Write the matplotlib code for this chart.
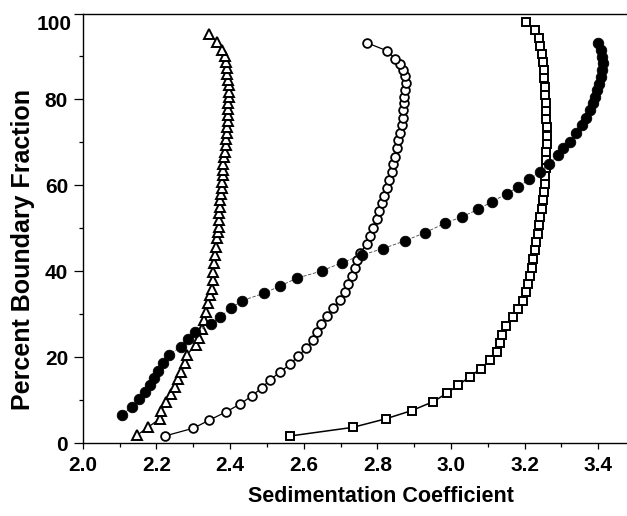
import matplotlib
matplotlib.use("Agg")
import matplotlib.pyplot as plt
from matplotlib.ticker import MultipleLocator, FixedLocator

plt.rcParams['font.family'] = ['Liberation Sans', 'DejaVu Sans']
plt.rcParams['font.weight'] = 'bold'

# Filled circles (dashed connector)
fc_x = [2.106, 2.133, 2.154, 2.169, 2.183, 2.194, 2.205, 2.219, 2.234, 2.268, 2.285, 2.304,
        2.348, 2.373, 2.402, 2.433, 2.492, 2.536, 2.581, 2.649, 2.703, 2.758, 2.815, 2.875,
        2.929, 2.984, 3.029, 3.074, 3.110, 3.151, 3.183, 3.213, 3.242, 3.267, 3.291, 3.305,
        3.323, 3.339, 3.355, 3.367, 3.377, 3.386, 3.391, 3.397, 3.403, 3.407, 3.411, 3.413,
        3.411, 3.406, 3.400]
fc_y = [6.6, 8.4, 10.2, 11.9, 13.6, 15.2, 16.8, 18.6, 20.6, 22.5, 24.2, 26.0,
        27.7, 29.4, 31.4, 33.2, 34.9, 36.6, 38.4, 40.1, 42.0, 43.8, 45.3, 47.1,
        49.0, 51.2, 52.7, 54.4, 56.2, 58.0, 59.7, 61.4, 63.2, 65.1, 67.0, 68.6,
        70.1, 72.1, 74.0, 75.8, 77.5, 79.1, 80.6, 82.2, 83.7, 85.3, 86.8, 88.4,
        89.9, 91.5, 93.2]

# Open circles
oc_x = [2.223, 2.300, 2.344, 2.389, 2.427, 2.459, 2.486, 2.508, 2.536, 2.563, 2.585, 2.606,
        2.624, 2.637, 2.646, 2.662, 2.679, 2.699, 2.712, 2.721, 2.730, 2.739, 2.746, 2.753,
        2.771, 2.780, 2.789, 2.798, 2.805, 2.812, 2.818, 2.825, 2.832, 2.839, 2.843, 2.848,
        2.853, 2.857, 2.862, 2.866, 2.869, 2.871, 2.873, 2.873, 2.875, 2.878, 2.875, 2.871,
        2.862, 2.848, 2.827, 2.771]
oc_y = [1.7, 3.5, 5.4, 7.3, 9.1, 11.0, 12.9, 14.7, 16.6, 18.4, 20.3, 22.1,
        24.0, 26.0, 27.7, 29.6, 31.5, 33.3, 35.3, 37.0, 38.9, 40.7, 42.6, 44.3,
        46.3, 48.2, 50.2, 52.2, 54.1, 55.8, 57.5, 59.3, 61.2, 63.2, 64.9, 66.7,
        68.6, 70.5, 72.2, 74.0, 75.8, 77.5, 79.2, 80.6, 82.2, 83.9, 85.4, 86.8,
        88.2, 89.5, 91.3, 93.2]

# Open squares
sq_x = [2.563, 2.733, 2.823, 2.893, 2.952, 2.988, 3.020, 3.052, 3.081, 3.106, 3.126, 3.133,
        3.138, 3.149, 3.168, 3.183, 3.195, 3.204, 3.210, 3.215, 3.219, 3.223, 3.228, 3.232,
        3.235, 3.239, 3.243, 3.247, 3.250, 3.252, 3.254, 3.255, 3.257, 3.258, 3.259, 3.260,
        3.260, 3.260, 3.259, 3.258, 3.257, 3.256, 3.255, 3.253, 3.252, 3.251, 3.246, 3.242,
        3.239, 3.228, 3.203]
sq_y = [1.7, 3.7, 5.7, 7.6, 9.7, 11.6, 13.6, 15.5, 17.4, 19.4, 21.3, 23.4,
        25.3, 27.3, 29.3, 31.2, 33.2, 35.1, 37.0, 39.0, 40.9, 42.9, 45.0, 46.9,
        48.8, 50.8, 52.7, 54.6, 56.5, 58.4, 60.3, 62.2, 64.0, 65.9, 67.8, 69.7,
        71.6, 73.5, 75.4, 77.3, 79.2, 81.1, 83.0, 84.9, 86.8, 88.6, 90.5, 92.4,
        94.3, 96.2, 98.1]

# Open triangles
tr_x = [2.148, 2.178, 2.209, 2.213, 2.227, 2.240, 2.250, 2.260, 2.268, 2.278, 2.282, 2.307,
        2.316, 2.323, 2.329, 2.335, 2.341, 2.346, 2.350, 2.353, 2.355, 2.357, 2.359, 2.362,
        2.364, 2.367, 2.369, 2.371, 2.371, 2.374, 2.374, 2.375, 2.377, 2.379, 2.380, 2.382,
        2.382, 2.384, 2.386, 2.388, 2.389, 2.391, 2.393, 2.394, 2.394, 2.394, 2.395, 2.397,
        2.397, 2.397, 2.395, 2.393, 2.391, 2.389, 2.386, 2.377, 2.365, 2.344]
tr_y = [1.9, 3.8, 5.65, 7.6, 9.5, 11.4, 13.2, 14.9, 16.7, 18.6, 20.5, 22.9,
        24.6, 26.6, 28.7, 30.6, 32.6, 34.5, 36.0, 38.0, 39.9, 41.9, 43.8, 45.7,
        47.7, 49.1, 50.4, 52.0, 53.6, 55.0, 56.6, 58.0, 59.3, 60.8, 62.4, 63.7,
        65.1, 66.5, 67.8, 69.4, 70.7, 72.1, 73.6, 75.1, 76.4, 77.7, 79.1, 80.5,
        81.8, 83.3, 84.6, 86.0, 87.4, 88.7, 90.1, 91.6, 93.4, 95.2]

x_major = [2.0, 2.2, 2.4, 2.6, 2.8, 3.0, 3.2, 3.4]
x_labels = ['2.0', '2.2', '2.4', '2.6', '2.8', '3.0', '3.2', '3.4']
y_major = [0, 20, 40, 60, 80, 100]
y_labels = ['0', '20', '40', '60', '80', '']

fig = plt.figure(figsize=(6.27, 5.16), dpi=100)
ax = fig.add_axes([82.7 / 627, (516 - 443.3) / 516, (627 - 82.7) / 627, (443.3 - 13.5) / 516])

ax.plot(sq_x, sq_y, '-', color='black', lw=1.1, marker='s', ms=5.9, mfc='white',
        mec='black', mew=1.4, zorder=3)
ax.plot(tr_x, tr_y, '-', color='black', lw=0.9, marker='^', ms=7.3, mfc='white',
        mec='black', mew=1.4, zorder=3)
ax.plot(oc_x, oc_y, '-', color='black', lw=0.9, marker='o', ms=6.3, mfc='white',
        mec='black', mew=1.3, zorder=3)
ax.plot(fc_x, fc_y, color='#444444', lw=0.6, ls=(0, (4, 2)), marker='o', ms=7.6,
        mfc='black', mec='black', mew=0.6, zorder=4)

ax.set_xlim(2.0, 2.0 + (627 - 82.7) / 368.3)
ax.set_ylim(0, 100)

ax.xaxis.set_major_locator(FixedLocator(x_major))
ax.set_xticklabels(x_labels)
ax.xaxis.set_minor_locator(MultipleLocator(0.1))
ax.yaxis.set_major_locator(FixedLocator(y_major))
ax.set_yticklabels(y_labels)
ax.yaxis.set_minor_locator(MultipleLocator(10))

ax.tick_params(axis='x', which='major', direction='out', length=4.5, width=0.9,
               labelsize=15, pad=4.5)
ax.tick_params(axis='x', which='minor', direction='out', length=3.0, width=0.9)
ax.tick_params(axis='y', which='major', direction='out', length=6.5, width=0.9,
               labelsize=15, pad=4)
ax.tick_params(axis='y', which='minor', direction='out', length=3.2, width=0.9)
ax.tick_params(top=False, right=False, which='both')
for lab in ax.get_xticklabels() + ax.get_yticklabels():
    lab.set_fontweight('bold')

ax.annotate('100', xy=(0, 100), xycoords=('axes fraction', 'data'), xytext=(-7.7, -8),
            textcoords='offset points', ha='right', va='center', fontsize=15,
            fontweight='bold')

for s in ['left', 'bottom', 'top']:
    ax.spines[s].set_linewidth(1.0)
ax.spines['right'].set_visible(False)

ax.set_xlabel('Sedimentation Coefficient', fontsize=15.5, fontweight='bold')
ax.set_ylabel('Percent Boundary Fraction', fontsize=18, fontweight='bold')
ax.xaxis.set_label_coords(0.548, -0.100)
ax.yaxis.set_label_coords(-0.088, 0.452)

fig.savefig('out.png', dpi=100)
